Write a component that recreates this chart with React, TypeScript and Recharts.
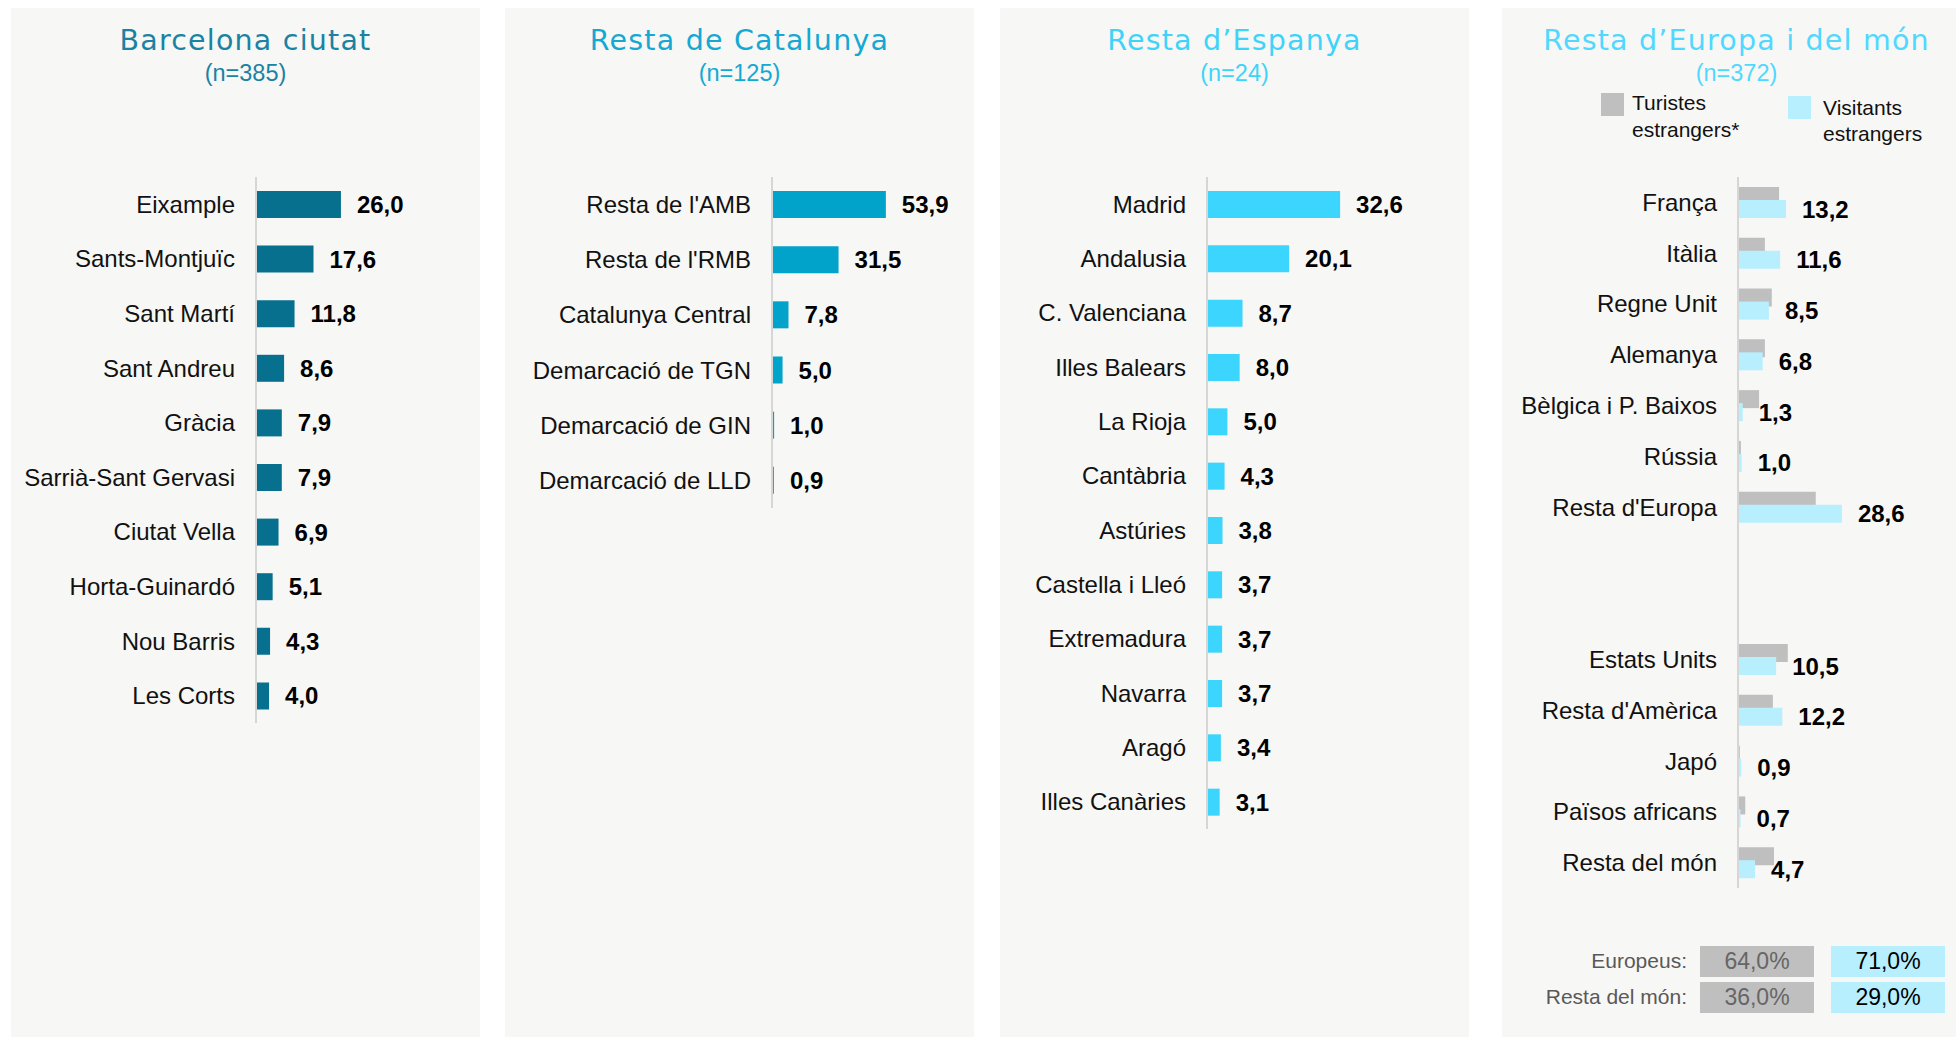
import { Bar, BarChart, LabelList, XAxis, YAxis } from 'recharts'

// Barcelona ciutat (n=385)
const bcnCats = ['Eixample', 'Sants-Montjuïc', 'Sant Martí', 'Sant Andreu', 'Gràcia', 'Sarrià-Sant Gervasi', 'Ciutat Vella', 'Horta-Guinardó', 'Nou Barris', 'Les Corts']
const bcnVals = [26.0, 17.6, 11.8, 8.6, 7.9, 7.9, 6.9, 5.1, 4.3, 4.0]

// Resta de Catalunya (n=125)
const catCats = ["Resta de l'AMB", "Resta de l'RMB", 'Catalunya Central', 'Demarcació de TGN', 'Demarcació de GIN', 'Demarcació de LLD']
const catVals = [53.9, 31.5, 7.8, 5.0, 1.0, 0.9]

// Resta d'Espanya (n=24)
const espCats = ['Madrid', 'Andalusia', 'C. Valenciana', 'Illes Balears', 'La Rioja', 'Cantàbria', 'Astúries', 'Castella i Lleó', 'Extremadura', 'Navarra', 'Aragó', 'Illes Canàries']
const espVals = [32.6, 20.1, 8.7, 8.0, 5.0, 4.3, 3.8, 3.7, 3.7, 3.7, 3.4, 3.1]

// Resta d'Europa i del món (n=372) – two blank rows separate Europe from the rest
const monCats = ['França', 'Itàlia', 'Regne Unit', 'Alemanya', 'Bèlgica i P. Baixos', 'Rússia', "Resta d'Europa", ' ', '  ', 'Estats Units', "Resta d'Amèrica", 'Japó', 'Països africans', 'Resta del món']
const monTuristes = [11.3, 7.4, 9.3, 7.4, 5.8, 0.8, 21.4, null, null, 13.7, 9.6, 0.5, 2.0, 9.9]
const monVisitants = [13.2, 11.6, 8.5, 6.8, 1.3, 1.0, 28.6, null, null, 10.5, 12.2, 0.9, 0.7, 4.7]

const titles = ['Barcelona ciutat', 'Resta de Catalunya', 'Resta d’Espanya', 'Resta d’Europa i del món']
const subtitles = ['(n=385)', '(n=125)', '(n=24)', '(n=372)']
const legendNames = [['Turistes', 'estrangers*'], ['Visitants', 'estrangers']]
const summaryRows = ['Europeus:', 'Resta del món:']
const summaryTuristes = ['64,0%', '36,0%']
const summaryVisitants = ['71,0%', '29,0%']

const FONT = '"Liberation Sans", Arial, sans-serif'
const TITLE_FONT = '"DejaVu Sans", sans-serif'
const BG = '#f7f7f5'
const GRAY = '#bfbfbf'
const CYAN = '#b8efff'
const PANEL_X = [11, 505, 1000, 1502]
const PANEL_W = 469
const TOP = 177
const titleColors = ['#1a82a3', '#14a8d3', '#3fd3f9', '#50d8ff']
const AXIS = { stroke: '#d6d6d6', strokeWidth: 2 }

const fmt = (v: number) => v.toFixed(1).replace('.', ',')

function CatTick(props: any) {
  const { x, y, payload } = props
  return (
    <text x={x} y={y + 8.5} textAnchor="end" fontSize={24} fontFamily={FONT} fill="#111">
      {String(payload.value).trim()}
    </text>
  )
}

function ValLabel(props: any) {
  const box = props.viewBox && props.viewBox.width !== undefined ? props.viewBox : props
  const { x, y, width, height } = box
  if (props.value == null) return null
  return (
    <text x={x + width + 16} y={y + height / 2 + 8.5} fontSize={24} fontWeight="bold" fontFamily={FONT} fill="#000">
      {fmt(Number(props.value))}
    </text>
  )
}

function SinglePanel({ left, axisX, bottom, max, right, cats, vals, fill }: {
  left: number; axisX: number; bottom: number; max: number; right: number
  cats: string[]; vals: number[]; fill: string
}) {
  const data = cats.map((name, i) => ({ name, v: vals[i] }))
  return (
    <div style={{ position: 'absolute', left, top: TOP }}>
      <BarChart width={PANEL_W} height={bottom - TOP} data={data} layout="vertical"
        margin={{ top: 0, right, bottom: 0, left: 0 }} barSize={27}>
        <XAxis type="number" domain={[0, max]} hide />
        <YAxis type="category" dataKey="name" width={axisX - left} axisLine={AXIS} tickLine={false}
          tickSize={0} tickMargin={21} interval={0} tick={<CatTick />} />
        <Bar dataKey="v" fill={fill} isAnimationActive={false}>
          <LabelList dataKey="v" content={<ValLabel />} />
        </Bar>
      </BarChart>
    </div>
  )
}

function WorldPanel() {
  const left = PANEL_X[3]
  const axisX = 1738
  const bottom = 888
  const data = monCats.map((name, i) => ({ name, t: monTuristes[i], v: monVisitants[i] }))
  return (
    <div style={{ position: 'absolute', left, top: TOP }}>
      <BarChart width={PANEL_W} height={bottom - TOP} data={data} layout="vertical"
        margin={{ top: 0, right: 15, bottom: 0, left: 0 }} barSize={18} barGap={-5}>
        <XAxis type="number" domain={[0, 60]} hide />
        <YAxis type="category" dataKey="name" width={axisX - left} axisLine={AXIS} tickLine={false}
          tickSize={0} tickMargin={21} interval={0} tick={<CatTick />} />
        <Bar dataKey="t" fill={GRAY} isAnimationActive={false} />
        <Bar dataKey="v" fill={CYAN} isAnimationActive={false}>
          <LabelList dataKey="v" content={<ValLabel />} />
        </Bar>
      </BarChart>
    </div>
  )
}

export default function App() {
  return (
    <div style={{ position: 'absolute', left: 0, top: 0, width: 1956, height: 1037, overflow: 'hidden', background: '#fff' }}>
      <svg width={1956} height={1037} style={{ position: 'absolute', left: 0, top: 0 }}>
        {PANEL_X.map((x) => (
          <rect key={x} x={x} y={8} width={PANEL_W} height={1029} fill={BG} />
        ))}
        {titles.map((t, i) => (
          <g key={t}>
            <text x={PANEL_X[i] + PANEL_W / 2} y={50} textAnchor="middle" fontSize={28.5} letterSpacing={1.2}
              fontFamily={TITLE_FONT} fill={titleColors[i]}>{t}</text>
            <text x={PANEL_X[i] + PANEL_W / 2} y={81} textAnchor="middle" fontSize={23.5}
              fontFamily={FONT} fill={titleColors[i]}>{subtitles[i]}</text>
          </g>
        ))}
        {/* legend */}
        <rect x={1601} y={93} width={23} height={23} fill={GRAY} />
        <text x={1632} y={110} fontSize={21} fontFamily={FONT} fill="#111">{legendNames[0][0]}</text>
        <text x={1632} y={137} fontSize={21} fontFamily={FONT} fill="#111">{legendNames[0][1]}</text>
        <rect x={1788} y={96} width={23} height={23} fill={CYAN} />
        <text x={1823} y={115} fontSize={21} fontFamily={FONT} fill="#111">{legendNames[1][0]}</text>
        <text x={1823} y={141} fontSize={21} fontFamily={FONT} fill="#111">{legendNames[1][1]}</text>
        {/* summary table */}
        {summaryRows.map((r, i) => {
          const y = 946 + i * 36
          return (
            <g key={r}>
              <text x={1687} y={y + 22} textAnchor="end" fontSize={21} fontFamily={FONT} fill="#595959">{r}</text>
              <rect x={1700} y={y} width={114} height={31} fill={GRAY} />
              <text x={1757} y={y + 23} textAnchor="middle" fontSize={23} fontFamily={FONT} fill="#666">{summaryTuristes[i]}</text>
              <rect x={1831} y={y} width={114} height={31} fill={CYAN} />
              <text x={1888} y={y + 23} textAnchor="middle" fontSize={23} fontFamily={FONT} fill="#000">{summaryVisitants[i]}</text>
            </g>
          )
        })}
      </svg>
      <SinglePanel left={PANEL_X[0]} axisX={256} bottom={723} max={60} right={28} cats={bcnCats} vals={bcnVals} fill="#07708f" />
      <SinglePanel left={PANEL_X[1]} axisX={772} bottom={508} max={80} right={33} cats={catCats} vals={catVals} fill="#02a3cb" />
      <SinglePanel left={PANEL_X[2]} axisX={1207} bottom={829} max={60} right={17} cats={espCats} vals={espVals} fill="#3bd5fd" />
      <WorldPanel />
    </div>
  )
}
